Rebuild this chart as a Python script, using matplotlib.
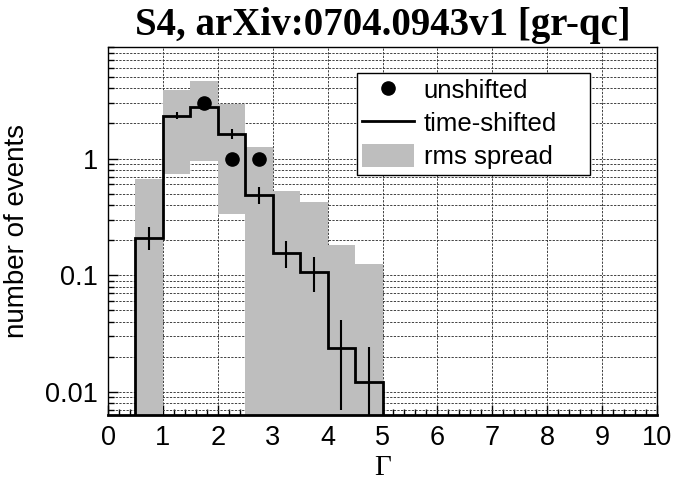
import numpy as np
import matplotlib
matplotlib.use("Agg")
import matplotlib.pyplot as plt
from matplotlib.lines import Line2D
from matplotlib.patches import Patch
from matplotlib.ticker import LogLocator, FixedLocator, MultipleLocator, NullFormatter, FuncFormatter

# bins of Gamma (width 0.5)
bin_edges = [0.5, 1.0, 1.5, 2.0, 2.5, 3.0, 3.5, 4.0, 4.5, 5.0]

# time-shifted histogram and its errors
shifted = [0.21, 2.33, 2.78, 1.63, 0.49, 0.155, 0.107, 0.024, 0.0122]
shifted_err = [0.047, 0.17, 0.17, 0.15, 0.08, 0.04, 0.035, 0.017, 0.012]

# rms spread band (0 = down to the axis)
rms_lo = [0, 0.73, 0.95, 0.337, 0, 0, 0, 0, 0]
rms_hi = [0.67, 3.89, 4.64, 2.93, 1.25, 0.526, 0.42, 0.18, 0.126]

# unshifted events
unshifted_x = [1.75, 2.25, 2.75]
unshifted_y = [3, 1, 1]

x_ticks = list(range(0, 11))
y_ticks = [0.01, 0.1, 1]
y_tick_labels = ["0.01", "0.1", "1"]

sans = "Liberation Sans"
serif = "Liberation Serif"

edges = np.array(bin_edges)
centers = (edges[:-1] + edges[1:]) / 2
widths = np.diff(edges)
lo = np.array(rms_lo)
hi = np.array(rms_hi)

fig = plt.figure(figsize=(6.76, 4.83), dpi=100)
ax = fig.add_axes([0.1598, 0.1408, 0.8121, 0.7629])
ax.set_yscale("log")

# grid
ax.set_axisbelow(True)
grid_kw = dict(color="0.2", linewidth=0.65, linestyle=(0, (2.5, 1.5)))
ax.grid(True, which="major", axis="x", **grid_kw)
ax.grid(True, which="both", axis="y", **grid_kw)

# rms spread band
ax.bar(centers, hi - lo, bottom=lo, width=widths, align="center",
       color="#bebebe", linewidth=0, zorder=2)

# time-shifted histogram
ax.stairs(shifted, edges, baseline=1e-5, color="black", linewidth=2.0, zorder=3)
ax.errorbar(centers, shifted, yerr=shifted_err, fmt="none", ecolor="black",
            elinewidth=1.5, capsize=0, zorder=3)

# unshifted points
ax.plot(unshifted_x, unshifted_y, "o", color="black", markersize=9.5, zorder=4)

ax.set_xlim(0, 10)
ax.set_ylim(0.00636, 9.1)

ax.xaxis.set_major_locator(FixedLocator(x_ticks))
ax.xaxis.set_minor_locator(MultipleLocator(0.2))
ax.yaxis.set_major_locator(FixedLocator(y_ticks))
ax.yaxis.set_major_formatter(FuncFormatter(lambda v, p: y_tick_labels[y_ticks.index(v)] if v in y_ticks else ""))
ax.yaxis.set_minor_locator(LogLocator(base=10, subs=np.arange(2, 10), numticks=20))
ax.yaxis.set_minor_formatter(NullFormatter())

ax.tick_params(which="major", direction="in", length=7, width=1, labelsize=19.5, pad=7)
ax.tick_params(which="minor", direction="in", length=4, width=1)
for lab in ax.get_xticklabels() + ax.get_yticklabels():
    lab.set_fontfamily(sans)

for s in ["left", "right", "top"]:
    ax.spines[s].set_linewidth(1.0)
ax.spines["bottom"].set_linewidth(2.0)

ax.set_xlabel("Γ", fontfamily=serif, fontsize=21, labelpad=3)
ax.set_ylabel("number of events", fontfamily=sans, fontsize=20, labelpad=11)
ax.set_title("S4, arXiv:0704.0943v1 [gr-qc]", fontfamily=serif, fontweight="bold",
             fontsize=28, pad=8)

handles = [
    Line2D([], [], marker="o", color="black", linestyle="none", markersize=9.5),
    Line2D([], [], color="black", linewidth=2.0),
    Patch(facecolor="#bebebe", edgecolor="none"),
]
leg = ax.legend(handles, ["unshifted", "time-shifted", "rms spread"],
                loc="upper left", bbox_to_anchor=(0.4536, 0.654, 0.4244, 0.274),
                mode="expand", prop={"family": sans, "size": 18.5}, frameon=True,
                fancybox=False, edgecolor="black", framealpha=1, borderpad=0.2,
                labelspacing=0.3, handlelength=2.0, handleheight=1.0,
                handletextpad=0.4, borderaxespad=0)
leg.get_frame().set_linewidth(1.0)
leg.set_zorder(5)

fig.savefig("out.png", dpi=100)
